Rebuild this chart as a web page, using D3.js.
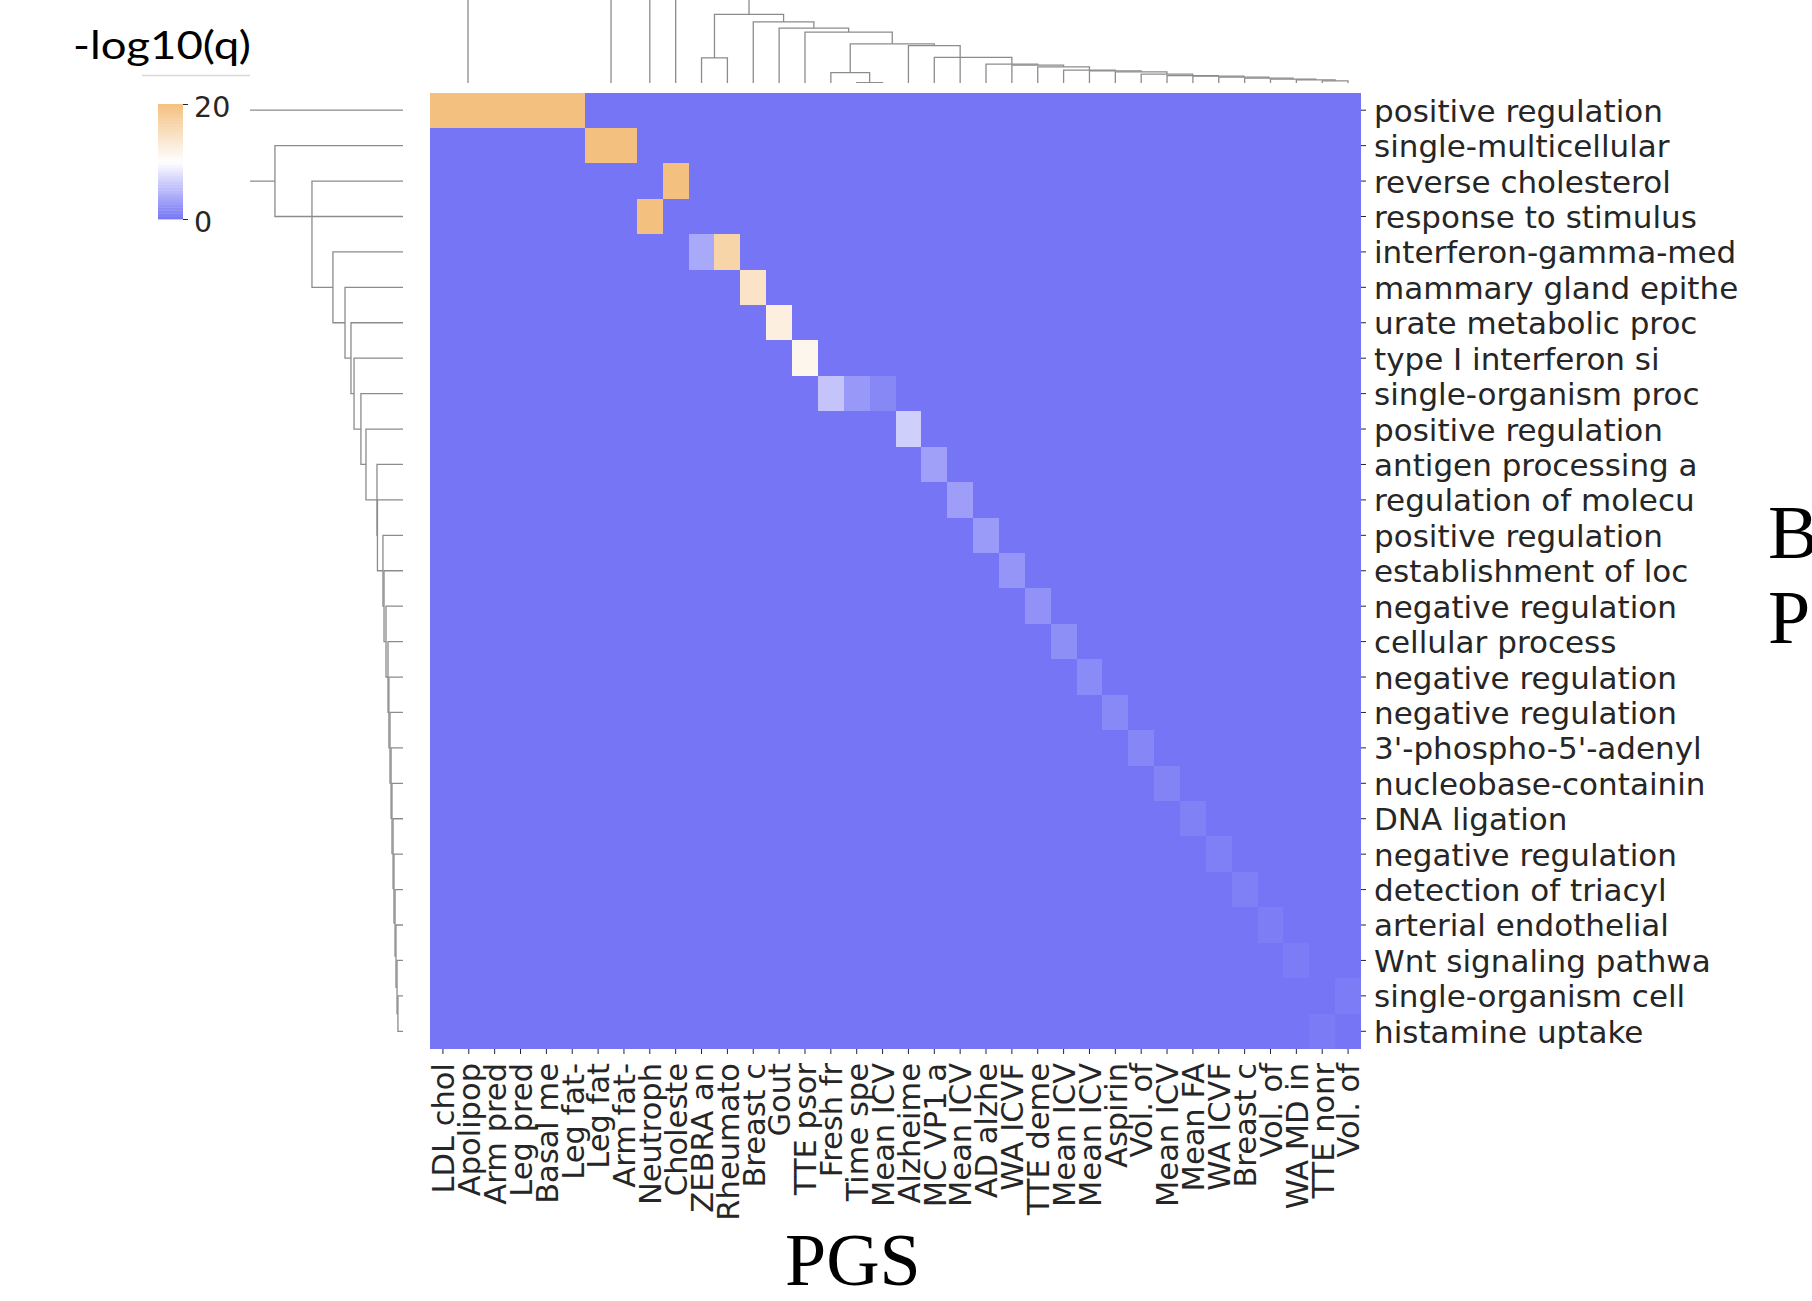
<!DOCTYPE html>
<html>
<head>
<meta charset="utf-8">
<script src="https://cdn.jsdelivr.net/npm/d3@7"></script>
<style>
  body { margin: 0; background: #fff; }
  svg { display: block; }
  .tick text { font-family: "DejaVu Sans", sans-serif; fill: #262626; }
  .tick line { stroke: #262626; }
</style>
</head>
<body>
<svg id="chart" width="1812" height="1301"></svg>
<script>
// rows = GO terms (truncated like in the source), cols = PGS traits
const rowLabels = [
  "positive regulation", "single-multicellular", "reverse cholesterol", "response to stimulus",
  "interferon-gamma-med", "mammary gland epithe", "urate metabolic proc", "type I interferon si",
  "single-organism proc", "positive regulation", "antigen processing a", "regulation of molecu",
  "positive regulation", "establishment of loc", "negative regulation", "cellular process",
  "negative regulation", "negative regulation", "3'-phospho-5'-adenyl", "nucleobase-containin",
  "DNA ligation", "negative regulation", "detection of triacyl", "arterial endothelial",
  "Wnt signaling pathwa", "single-organism cell", "histamine uptake"
];

const colLabels = [
  "LDL chol", "Apolipop", "Arm pred", "Leg pred", "Basal me", "Leg fat-", "Leg fat", "Arm fat-",
  "Neutroph", "Choleste", "ZEBRA an", "Rheumato", "Breast c", "Gout", "TTE psor", "Fresh fr",
  "Time spe", "Mean ICV", "Alzheime", "MC VP1 a", "Mean ICV", "AD alzhe", "WA ICVF", "TTE deme",
  "Mean ICV", "Mean ICV", "Aspirin", "Vol. of", "Mean ICV", "Mean FA", "WA ICVF", "Breast c",
  "Vol. of", "WA MD in", "TTE nonr", "Vol. of"
];

// non-zero cells: [row, col, -log10(q)], everything else is 0
const hits = [
  [0, 0, 24], [0, 1, 24], [0, 2, 24], [0, 3, 24], [0, 4, 24], [0, 5, 24],
  [1, 6, 22], [1, 7, 22],
  [2, 9, 21],
  [3, 8, 21],
  [4, 10, 3.8], [4, 11, 16.8],
  [5, 12, 14.4],
  [6, 13, 12.5],
  [7, 14, 11.4],
  [8, 15, 5.7], [8, 16, 2.5], [8, 17, 1.3],
  [9, 18, 6.5],
  [10, 19, 3.1],
  [11, 20, 3.0],
  [12, 21, 2.7],
  [13, 22, 2.3],
  [14, 23, 2.0],
  [15, 24, 1.8],
  [16, 25, 1.6],
  [17, 26, 1.4],
  [18, 27, 1.2],
  [19, 28, 1.0],
  [20, 29, 0.9],
  [21, 30, 0.8],
  [22, 31, 0.7],
  [23, 32, 0.6],
  [24, 33, 0.5],
  [25, 35, 0.5],
  [26, 34, 0.4]
];

// linkage like scipy: [childA, childB, height]; leaves are 0..n-1, each row adds id n+i
const rowLinkage = [
  [25, 26, 0.033], [24, 27, 0.039], [23, 28, 0.046], [22, 29, 0.052], [21, 30, 0.059],
  [20, 31, 0.065], [19, 32, 0.072], [18, 33, 0.078], [17, 34, 0.085], [16, 35, 0.092],
  [15, 36, 0.098], [14, 37, 0.111], [13, 38, 0.124], [12, 39, 0.131], [11, 40, 0.167],
  [10, 41, 0.170], [9, 42, 0.242], [8, 43, 0.275], [7, 44, 0.320], [6, 45, 0.340],
  [5, 46, 0.379], [4, 47, 0.458], [2, 48, 0.595], [1, 3, 0.837], [0, 50, 1.05]
];

const colLinkage = [
  [34, 35, 0.048], [33, 36, 0.060], [32, 37, 0.068], [31, 38, 0.080], [30, 39, 0.092],
  [29, 40, 0.104], [28, 41, 0.111], [27, 42, 0.127], [26, 43, 0.155], [25, 44, 0.167],
  [24, 45, 0.175], [23, 46, 0.214], [22, 47, 0.234], [21, 48, 0.246], [19, 49, 0.325],
  [18, 20, 0.464], [16, 17, 0.027], [15, 52, 0.146], [53, 51, 0.485], [14, 54, 0.623],
  [13, 55, 0.670], [12, 56, 0.742], [10, 11, 0.318], [58, 57, 0.830],
  [4, 5, 0], [3, 60, 0], [2, 61, 0], [1, 62, 0], [0, 63, 0], [6, 7, 0],
  [64, 65, 1.6], [8, 9, 1.4], [67, 59, 1.5], [66, 68, 1.8]
];

const cbarTicks = [0, 20];

const svg = d3.select("#chart");
const heat = { left: 430, right: 1361, top: 92.5, bottom: 1049 };

const x = d3.scaleBand().domain(d3.range(colLabels.length)).range([heat.left, heat.right]);
const y = d3.scaleBand().domain(d3.range(rowLabels.length)).range([heat.top, heat.bottom]);
const color = d3.scaleLinear().domain([0, 10, 20])
  .range(["#7575f5", "#ffffff", "#f4c080"]).clamp(true);

// heatmap
const values = rowLabels.map(() => colLabels.map(() => 0));
hits.forEach(([r, c, v]) => { values[r][c] = v; });
const cells = values.flatMap((row, r) => row.map((v, c) => ({ r, c, v })));

svg.append("g").selectAll("rect").data(cells).join("rect")
  .attr("x", d => x(d.c))
  .attr("y", d => y(d.r))
  .attr("width", x.bandwidth())
  .attr("height", y.bandwidth())
  .attr("fill", d => color(d.v))
  .attr("shape-rendering", "crispEdges");

// axes
const rowAxis = svg.append("g")
  .attr("transform", `translate(${heat.right},0)`)
  .call(d3.axisRight(y).tickFormat(i => rowLabels[i]).tickSize(5).tickPadding(8));
rowAxis.select(".domain").remove();
rowAxis.selectAll("text").attr("dy", "0.37em").style("font-size", "31px");

const colAxis = svg.append("g")
  .attr("transform", `translate(0,${heat.bottom})`)
  .call(d3.axisBottom(x).tickFormat(i => colLabels[i]).tickSize(5).tickPadding(9));
colAxis.select(".domain").remove();
colAxis.selectAll("text")
  .attr("transform", "rotate(-90)")
  .attr("x", -14).attr("y", 0).attr("dy", "0.37em")
  .style("text-anchor", "end")
  .style("font-size", "30.5px");

// dendrograms
function dendroLinks(linkage, nLeaves) {
  const pos = d3.range(nLeaves);
  const hgt = pos.map(() => 0);
  return linkage.map(([a, b, h]) => {
    const link = { pa: pos[a], ha: hgt[a], pb: pos[b], hb: hgt[b], h };
    pos.push((pos[a] + pos[b]) / 2);
    hgt.push(h);
    return link;
  });
}

const line = d3.line();
const defs = svg.append("defs");
defs.append("clipPath").attr("id", "rowClip")
  .append("rect").attr("x", 250).attr("y", 0).attr("width", 170).attr("height", 1301);
defs.append("clipPath").attr("id", "colClip")
  .append("rect").attr("x", 400).attr("y", 0).attr("width", 1000).attr("height", 83);

const rowPos = d3.scaleLinear().domain([-0.5, rowLabels.length - 0.5]).range([heat.top, heat.bottom]);
const rowDist = d3.scaleLinear().domain([0, 1]).range([403, 250]);

svg.append("g").attr("clip-path", "url(#rowClip)")
  .selectAll("path").data(dendroLinks(rowLinkage, rowLabels.length)).join("path")
  .attr("d", d => line([
    [rowDist(d.ha), rowPos(d.pa)], [rowDist(d.h), rowPos(d.pa)],
    [rowDist(d.h), rowPos(d.pb)], [rowDist(d.hb), rowPos(d.pb)]
  ]))
  .attr("fill", "none").attr("stroke", "#8c8c8c").attr("stroke-width", 1.3);

const colPos = d3.scaleLinear().domain([-0.5, colLabels.length - 0.5]).range([heat.left, heat.right]);
const colDist = d3.scaleLinear().domain([0, 1]).range([85, 0]);

svg.append("g").attr("clip-path", "url(#colClip)")
  .selectAll("path").data(dendroLinks(colLinkage, colLabels.length)).join("path")
  .attr("d", d => line([
    [colPos(d.pa), colDist(d.ha)], [colPos(d.pa), colDist(d.h)],
    [colPos(d.pb), colDist(d.h)], [colPos(d.pb), colDist(d.hb)]
  ]))
  .attr("fill", "none").attr("stroke", "#8c8c8c").attr("stroke-width", 1.3);

// colour bar
const cbar = d3.scaleLinear().domain([0, 20]).range([219, 104]);
const bandStep = 0.5;
svg.append("g").selectAll("rect").data(d3.range(0, 20, bandStep)).join("rect")
  .attr("x", 158).attr("width", 25)
  .attr("y", d => cbar(d + bandStep))
  .attr("height", cbar(0) - cbar(bandStep) + 0.4)
  .attr("fill", d => color(d + bandStep / 2));

const cAxis = svg.append("g")
  .attr("transform", "translate(183,0)")
  .call(d3.axisRight(cbar).tickValues(cbarTicks).tickSize(5).tickPadding(6));
cAxis.select(".domain").remove();
cAxis.selectAll("text").attr("dy", "0.45em").style("font-size", "28.5px");

svg.append("text")
  .attr("x", 73).attr("y", 59)
  .attr("textLength", 178).attr("lengthAdjust", "spacingAndGlyphs")
  .style("font-family", "Lato, 'Open Sans', sans-serif")
  .style("font-size", "38px")
  .text("-log10(q)");
svg.append("line")
  .attr("x1", 142).attr("x2", 250).attr("y1", 75.5).attr("y2", 75.5)
  .attr("stroke", "#d9d9d9").attr("stroke-width", 1.5);

// outer titles (B / P are cut off at the right edge in the source figure too)
const serif = "'Liberation Serif', 'Times New Roman', serif";
svg.append("text").attr("x", 785).attr("y", 1285)
  .style("font-family", serif).style("font-size", "74px").text("PGS");
svg.append("text").attr("x", 1768).attr("y", 558)
  .style("font-family", serif).style("font-size", "76px").text("B");
svg.append("text").attr("x", 1768).attr("y", 643)
  .style("font-family", serif).style("font-size", "76px").text("P");
</script>
</body>
</html>
